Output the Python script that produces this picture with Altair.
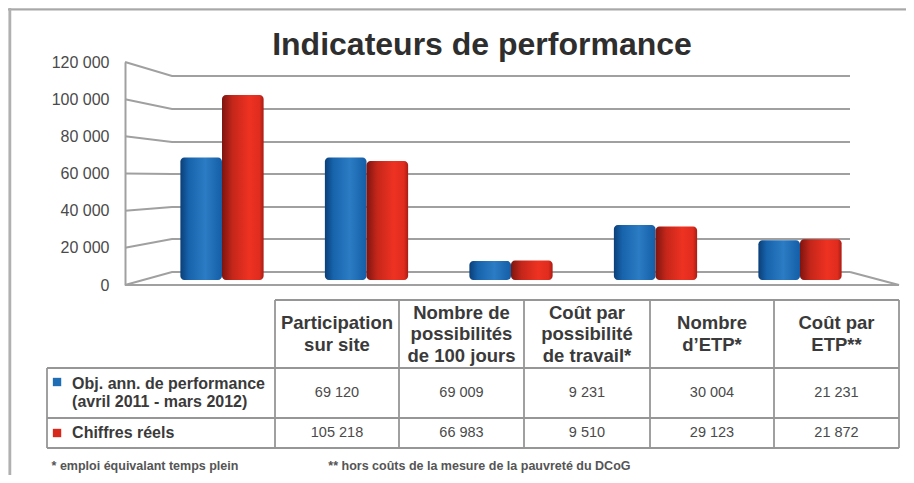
import altair as alt
import pandas as pd

title = "Indicateurs de performance"
categories = ["Participation\nsur site", "Nombre de\npossibilités\nde 100 jours",
              "Coût par\npossibilité\nde travail*", "Nombre\nd’ETP*", "Coût par\nETP**"]
target = [69120, 69009, 9231, 30004, 21231]
actual = [105218, 66983, 9510, 29123, 21872]
series_labels = ["Obj. ann. de performance\n(avril 2011 -  mars 2012)", "Chiffres réels"]
notes = ["* emploi équivalant temps plein", "** hors coûts de la mesure de la pauvreté du DCoG"]
ticks = [0, 20000, 40000, 60000, 80000, 100000, 120000]
back_wall = [7000, 24750, 41970, 59730, 76950, 94700, 112470]

OX, OY = 8, 8
def px(vals, o):
    return [v - o for v in vals]

# ---- scales
bar_x = alt.Scale(domain=[0, 4], range=px([222, 800], OX))
bar_y = alt.Scale(domain=[0, 120000], range=px([277, 69.4], OY), zero=False, nice=False)
wall_y = alt.Scale(domain=[0, 120000], range=px([285, 62], OY), zero=False, nice=False)
col_x = alt.Scale(domain=[0, 1, 2, 3, 4, 5, 6], range=px([47, 275, 399, 524, 650, 774, 899], OX), zero=False, nice=False)
row_y = alt.Scale(domain=[0, 1, 2, 3, 4], range=px([300, 368, 418, 448, 466], OY), zero=False, nice=False)

X = lambda f, s: alt.X(f, type="quantitative", scale=s, axis=None)
Y = lambda f, s: alt.Y(f, type="quantitative", scale=s, axis=None)

# ---- walls
wall_rows = []
for t, b in zip(ticks, back_wall):
    wall_rows += [dict(line=t, step=0, pos=-0.671, v=t), dict(line=t, step=1, pos=-0.346, v=b), dict(line=t, step=2, pos=4.346, v=b)]
wall_rows += [dict(line=-1, step=0, pos=4.346, v=back_wall[0]), dict(line=-1, step=1, pos=4.685, v=0), dict(line=-1, step=2, pos=-0.671, v=0)]
walls = alt.Chart(pd.DataFrame(wall_rows)).mark_line(color="#a0a0a0", strokeWidth=2).encode(
    x=X("pos", bar_x), y=Y("v", wall_y), detail="line:N", order="step:Q")

axis_layer = alt.Chart(pd.DataFrame({"v": ticks})).mark_point(opacity=0).encode(
    y=alt.Y("v:Q", scale=wall_y, axis=alt.Axis(
        values=ticks, offset=-117, ticks=False, grid=False, title=None, domainColor="#a0a0a0", domainWidth=2,
        labelPadding=16, labelFont="Liberation Sans", labelFontSize=16, labelColor="#4a4a4a",
        labelExpr="replace(format(datum.value, ','), ',', ' ')")),
    x=alt.value(117))

# ---- bars
def grad(stops):
    return alt.Gradient(gradient="linear", x1=0, x2=1, y1=0, y2=0,
                        stops=[alt.GradientStop(offset=o, color=c) for o, c in stops])
blue = grad([(0, "#0b3f78"), (0.2, "#1763ac"), (0.6, "#2b7cc4"), (1, "#145ea6")])
red = grad([(0, "#7d1510"), (0.25, "#c4261a"), (0.65, "#ee3222"), (0.9, "#e02c1e"), (1, "#a81c14")])
half = 0.288
def bars(vals, left, fill):
    df = pd.DataFrame({"i": range(5), "v": vals})
    df["a"] = df["i"] + left
    df["b"] = df["a"] + half
    return alt.Chart(df).mark_bar(fill=fill, cornerRadius=4).encode(
        x=X("a", bar_x), x2="b:Q", y=Y("v", bar_y), y2=alt.datum(-1700))
blue_bars = bars(target, -half, blue)
red_bars = bars(actual, 0, red)

# ---- table grid
h_df = pd.DataFrame({"r": [0, 1, 2, 3], "c1": [1, 0, 0, 0], "c2": [6, 6, 6, 6]})
v_df = pd.DataFrame({"c": range(7), "r1": [1, 0, 0, 0, 0, 0, 0], "r2": [3] * 7})
GRID = "#969696"
h_rules = alt.Chart(h_df).mark_rule(color=GRID, strokeWidth=1.8).encode(
    x=X("c1", col_x), x2="c2:Q", y=Y("r", row_y))
v_rules = alt.Chart(v_df).mark_rule(color=GRID, strokeWidth=1.8).encode(
    x=X("c", col_x), y=Y("r1", row_y), y2="r2:Q")

# ---- table text
def fr(v):
    return f"{v:,}".replace(",", " ")
def nlines(s):
    return s.count("\n")
HEAD_LH = 21.5
head_df = pd.DataFrame({"c": [i + 1.5 for i in range(5)],
                        "r": [0.5 - nlines(t) * (HEAD_LH / 68) / 2 for t in categories], "t": categories})
head = alt.Chart(head_df).mark_text(font="Liberation Sans", fontWeight="bold", fontSize=18.5, color="#3a3a3a",
                                    lineBreak="\n", lineHeight=HEAD_LH).encode(
    x=X("c", col_x), y=Y("r", row_y), text="t:N")
val_df = pd.DataFrame({"c": [i + 1.5 for i in range(5)] * 2, "r": [1.5] * 5 + [2.5] * 5,
                       "t": [fr(v) for v in target + actual]})
vals = alt.Chart(val_df).mark_text(font="Liberation Sans", fontSize=14.5, color="#4a4a4a").encode(
    x=X("c", col_x), y=Y("r", row_y), text="t:N")
lab_df = pd.DataFrame({"c": [0.11, 0.11], "r": [1.5 - 9 / 50, 2.5], "t": series_labels})
labs = alt.Chart(lab_df).mark_text(font="Liberation Sans", fontWeight="bold", fontSize=16, color="#3a3a3a", align="left",
                                   lineBreak="\n", lineHeight=18).encode(
    x=X("c", col_x), y=Y("r", row_y), text="t:N")
sq_df = pd.DataFrame({"c": [0.044, 0.044], "r": [1.28, 2.5], "k": ["a", "b"]})
squares = alt.Chart(sq_df).mark_square(size=70, opacity=1).encode(
    x=X("c", col_x), y=Y("r", row_y),
    color=alt.Color("k:N", scale=alt.Scale(domain=["a", "b"], range=["#1f6db5", "#d8281c"]), legend=None))
note_df = pd.DataFrame({"c": [0.02, 1.43], "r": [4, 4], "t": notes})
note_text = alt.Chart(note_df).mark_text(font="Liberation Sans", fontWeight="bold", fontSize=12.5, color="#555555", align="left").encode(
    x=X("c", col_x), y=Y("r", row_y), text="t:N")

# ---- outer frame
frame_top = alt.Chart(pd.DataFrame({"k": [0]})).mark_rule(color="#a8a8a8", strokeWidth=2).encode(
    x=alt.value(0), x2=alt.value(898), y=alt.value(1.5))
frame_left = alt.Chart(pd.DataFrame({"k": [0]})).mark_rule(color="#b0b0b0", strokeWidth=2.5).encode(
    x=alt.value(2), y=alt.value(0), y2=alt.value(467))

chart = alt.layer(
    walls, axis_layer, blue_bars, red_bars, h_rules, v_rules, head, vals, labs, squares, note_text, frame_top, frame_left
).resolve_scale(x="independent", y="independent", color="independent").properties(
    width=898, height=467, padding=0, autosize=alt.AutoSizeParams(type="none"),
    title=alt.TitleParams(title, font="Liberation Sans", fontSize=32, fontWeight="bold", color="#2e2e2e",
                          anchor="middle", orient="top", offset=-55, dx=25)
).configure_view(stroke=None).configure(background="white")

chart.save("out.html", embed_options={"renderer": "svg", "actions": False})
